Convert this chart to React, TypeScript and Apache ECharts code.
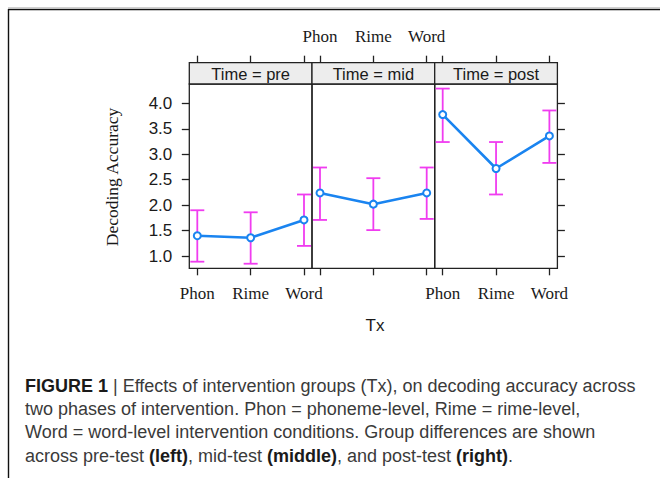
import React, { useEffect, useRef } from "react";
import * as echarts from "echarts";

const categories = ["Phon", "Rime", "Word"];
const panelTitles = ["Time = pre", "Time = mid", "Time = post"];
const meanPre = [1.4, 1.36, 1.71];
const meanMid = [2.24, 2.02, 2.24];
const meanPost = [3.78, 2.72, 3.36];
const lowerPre = [0.89, 0.85, 1.2];
const upperPre = [1.9, 1.86, 2.21];
const lowerMid = [1.71, 1.51, 1.73];
const upperMid = [2.74, 2.53, 2.74];
const lowerPost = [3.24, 2.21, 2.83];
const upperPost = [4.29, 3.24, 3.86];
const yTicks = [1.0, 1.5, 2.0, 2.5, 3.0, 3.5, 4.0];
const xTicks = [0, 1, 2];
const captionLines = [
  "{b|FIGURE 1} | Effects of intervention groups (Tx), on decoding accuracy across",
  "two phases of intervention. Phon = phoneme-level, Rime = rime-level,",
  "Word = word-level intervention conditions. Group differences are shown",
  "across pre-test {b|(left)}, mid-test {b|(middle)}, and post-test {b|(right)}.",
];

const means = [meanPre, meanMid, meanPost];
const lowers = [lowerPre, lowerMid, lowerPost];
const uppers = [upperPre, upperMid, upperPost];

const SERIF = "'Liberation Serif', 'Times New Roman', serif";
const SANS = "'Liberation Sans', Arial, sans-serif";

export default function App() {
  const ref = useRef<HTMLDivElement>(null);
  useEffect(() => {
    if (!ref.current) return;
    const chart = echarts.init(ref.current, undefined, { renderer: "svg" });
    const panelLeft = 189.3;
    const panelW = 122.7;
    const gridTop = 84;
    const gridH = 184.3;
    const stripH = 21.3;

    const grids: any[] = [];
    const xAxes: any[] = [];
    const yAxes: any[] = [];
    const series: any[] = [];
    const graphics: any[] = [];

    for (let i = 0; i < 3; i++) {
      const left = panelLeft + i * panelW;
      grids.push({
        left,
        top: gridTop,
        width: panelW,
        height: gridH,
        show: true,
        borderColor: "#222",
        borderWidth: 1.3,
        backgroundColor: "transparent",
        containLabel: false,
      });
      const xBase = {
        type: "value",
        gridIndex: i,
        min: -0.15,
        max: 2.15,
        splitLine: { show: false },
        axisLine: { show: false, onZero: false },
        axisTick: {
          show: true,
          customValues: xTicks,
          length: 7,
          lineStyle: { color: "#222", width: 1.3 },
        },
      };
      xAxes.push({
        ...xBase,
        position: "bottom",
        axisLabel: {
          show: i !== 1,
          customValues: xTicks,
          formatter: (v: number) => categories[Math.round(v)],
          fontFamily: SERIF,
          fontSize: 17,
          color: "#1a1a1a",
          margin: 17,
        },
      });
      xAxes.push({
        ...xBase,
        position: "top",
        offset: stripH,
        axisLabel: {
          show: i === 1,
          customValues: xTicks,
          formatter: (v: number) => categories[Math.round(v)],
          fontFamily: SERIF,
          fontSize: 17,
          color: "#1a1a1a",
          margin: 18,
        },
      });
      const yBase = {
        type: "value",
        gridIndex: i,
        min: 0.76,
        max: 4.38,
        splitLine: { show: false },
        axisLine: { show: false, onZero: false },
      };
      yAxes.push({
        ...yBase,
        position: "left",
        axisTick: {
          show: i === 0,
          customValues: yTicks,
          length: 7.5,
          lineStyle: { color: "#222", width: 1.3 },
        },
        axisLabel: {
          show: i === 0,
          customValues: yTicks,
          formatter: (v: number) => v.toFixed(1),
          fontFamily: SANS,
          fontSize: 17,
          color: "#1a1a1a",
          margin: 17,
        },
      });
      yAxes.push({
        ...yBase,
        position: "right",
        axisTick: {
          show: i === 2,
          customValues: yTicks,
          length: 7.5,
          lineStyle: { color: "#222", width: 1.3 },
        },
        axisLabel: { show: false },
      });

      const errData = categories.map((_, k) => [k, lowers[i][k], uppers[i][k]]);
      series.push({
        type: "custom",
        xAxisIndex: 2 * i,
        yAxisIndex: 2 * i,
        data: errData,
        encode: { x: 0, y: [1, 2] },
        z: 2,
        renderItem: (_p: any, api: any) => {
          const x = api.value(0);
          const lo = api.coord([x, api.value(1)]);
          const hi = api.coord([x, api.value(2)]);
          const hw = 7;
          const style = { stroke: "#f03cf0", lineWidth: 1.8 };
          return {
            type: "group",
            children: [
              { type: "line", shape: { x1: lo[0], y1: lo[1], x2: hi[0], y2: hi[1] }, style },
              { type: "line", shape: { x1: lo[0] - hw, y1: lo[1], x2: lo[0] + hw, y2: lo[1] }, style },
              { type: "line", shape: { x1: hi[0] - hw, y1: hi[1], x2: hi[0] + hw, y2: hi[1] }, style },
            ],
          };
        },
      });
      series.push({
        type: "line",
        xAxisIndex: 2 * i,
        yAxisIndex: 2 * i,
        data: categories.map((_, k) => [k, means[i][k]]),
        symbol: "emptyCircle",
        symbolSize: 7,
        z: 3,
        lineStyle: { color: "#1a84f0", width: 2.6 },
        itemStyle: { color: "#1a84f0", borderWidth: 2.2 },
      });

      graphics.push({
        type: "rect",
        shape: { x: left, y: gridTop - stripH, width: panelW, height: stripH },
        style: { fill: "#ededed", stroke: "#222", lineWidth: 1.3 },
        z: 10,
      });
      graphics.push({
        type: "text",
        x: left + panelW / 2,
        y: gridTop - stripH / 2 + 1,
        z: 11,
        style: {
          text: panelTitles[i],
          fontFamily: SANS,
          fontSize: 16.5,
          fill: "#1a1a1a",
          textAlign: "center",
          textVerticalAlign: "middle",
        },
      });
    }

    // frame
    graphics.push({
      type: "line",
      shape: { x1: 8, y1: 7.5, x2: 660, y2: 7.5 },
      style: { stroke: "#d0d0d0", lineWidth: 1 },
    });
    graphics.push({
      type: "line",
      shape: { x1: 8, y1: 9.5, x2: 660, y2: 9.5 },
      style: { stroke: "#111", lineWidth: 1.6 },
    });
    graphics.push({
      type: "line",
      shape: { x1: 8.5, y1: 9, x2: 8.5, y2: 478 },
      style: { stroke: "#111", lineWidth: 1.4 },
    });

    // axis titles
    graphics.push({
      type: "text",
      x: 112,
      y: 177,
      rotation: Math.PI / 2,
      style: {
        text: "Decoding Accuracy",
        fontFamily: SERIF,
        fontSize: 17.5,
        fill: "#1a1a1a",
        textAlign: "center",
        textVerticalAlign: "middle",
      },
    });
    graphics.push({
      type: "text",
      x: 375,
      y: 325,
      style: {
        text: "Tx",
        fontFamily: SANS,
        fontSize: 17,
        fill: "#1a1a1a",
        textAlign: "center",
        textVerticalAlign: "middle",
      },
    });

    // caption
    captionLines.forEach((line, idx) => {
      graphics.push({
        type: "text",
        x: 25,
        y: 386 + idx * 23.2,
        style: {
          text: line,
          fontFamily: SANS,
          fontSize: 18,
          fill: "#3a3a3a",
          textAlign: "left",
          textVerticalAlign: "middle",
          rich: {
            b: { fontFamily: SANS, fontSize: 18, fontWeight: "bold", fill: "#1a1a1a" },
          },
        },
      });
    });

    chart.setOption({
      animation: false,
      backgroundColor: "#fff",
      grid: grids,
      xAxis: xAxes,
      yAxis: yAxes,
      series,
      graphic: { elements: graphics },
    });
    return () => chart.dispose();
  }, []);
  return (
    <div
      ref={ref}
      style={{ position: "absolute", left: 0, top: 0, width: 660, height: 478 }}
    />
  );
}
